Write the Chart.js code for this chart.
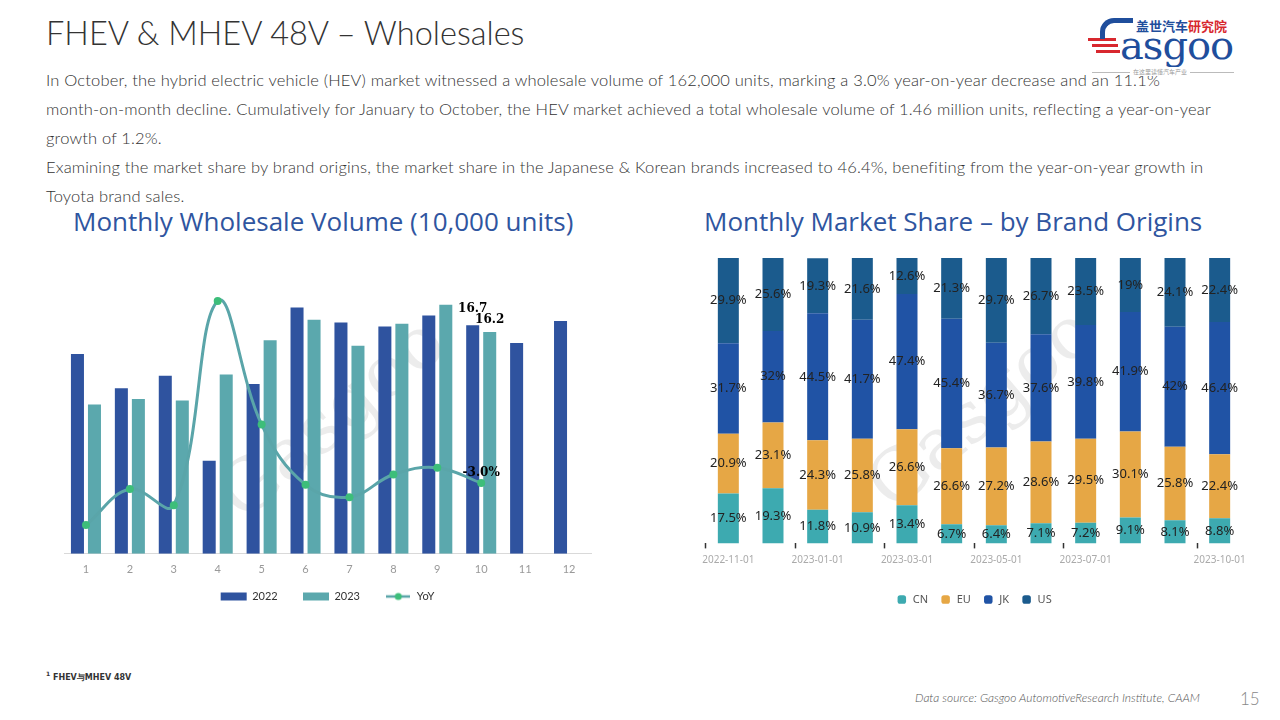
<!DOCTYPE html>
<html>
<head>
<meta charset="utf-8">
<script src="https://cdn.jsdelivr.net/npm/chart.js@4.4.0/dist/chart.umd.min.js"></script>
<style>
  body { margin: 0; width: 1280px; height: 720px; background: #fff; position: relative; overflow: hidden; font-family: 'Lato', sans-serif; color: #333; }
  .abs { position: absolute; }
  #title { left: 46px; top: 13px; font-size: 32.5px; font-weight: 300; color: #333; }
  #para { left: 46px; top: 66px; font-size: 16.5px; letter-spacing: 0.17px; font-weight: 300; line-height: 29px; color: #333; white-space: nowrap; }
  .sub { top: 203px; font-size: 26px; color: #2F55A0; font-family: 'Open Sans', sans-serif; }
  #note { left: 46px; top: 670px; font-size: 8px; font-weight: bold; font-family: 'DejaVu Sans', sans-serif; }
  #src { left: 915px; top: 690px; font-size: 12px; font-style: italic; color: #555; font-weight: 300; }
  #page { left: 1240px; top: 688px; font-size: 17px; color: #888; font-weight: 300; }
  .wm { font-size: 72px; color: rgba(170,170,170,0.22); transform: rotate(-40deg); font-family: 'DejaVu Serif', serif; pointer-events: none; }
</style>
</head>
<body>
<div id="title" class="abs">FHEV &amp; MHEV 48V – Wholesales</div>
<div id="para" class="abs">In October, the hybrid electric vehicle (HEV) market witnessed a wholesale volume of 162,000 units, marking a 3.0% year-on-year decrease and an 11.1%<br>month-on-month decline. Cumulatively for January to October, the HEV market achieved a total wholesale volume of 1.46 million units, reflecting a year-on-year<br>growth of 1.2%.<br>Examining the market share by brand origins, the market share in the Japanese &amp; Korean brands increased to 46.4%, benefiting from the year-on-year growth in<br>Toyota brand sales.</div>
<div class="abs sub" style="left:73px">Monthly Wholesale Volume (10,000 units)</div>
<div class="abs sub" style="left:704px">Monthly Market Share – by Brand Origins</div>

<!-- logo -->
<div class="abs" style="left:1088px; top:16px; width:150px; height:62px;">
  <div class="abs" style="left:48px; top:0; font-size:13px; font-weight:bold; font-family:'Noto Sans CJK SC'; color:#1F4E9C;">盖世汽车<span style="color:#D8282E">研究院</span></div>
  <div class="abs" style="left:0; top:22px; width:28px; height:3px; background:#D8282E;"></div>
  <div class="abs" style="left:4px; top:28px; width:26px; height:3px; background:#D8282E;"></div>
  <div class="abs" style="left:8px; top:34px; width:24px; height:3px; background:#D8282E;"></div>
  <div class="abs" style="left:12px; top:2px; width:28px; height:16px; border-top:5px solid #1F4E9C; border-left:5px solid #1F4E9C; border-radius:14px 0 0 0;"></div>
  <div class="abs" style="left:32px; top:6px; font-size:40px; font-family:'DejaVu Serif', serif; color:#1F4E9C; letter-spacing:-1px;">asgoo</div>
  <div class="abs" style="left:4px; top:56px; width:142px; border-top:1px solid #bbb;"></div>
  <div class="abs" style="left:42px; top:51px; font-size:6px; color:#999; background:#fff; padding:0 3px; font-family:'Noto Sans CJK SC';">在这里读懂汽车产业</div>
</div>

<div class="abs wm" style="left:195px; top:375px;">Gasgoo</div>
<div class="abs wm" style="left:845px; top:365px;">Gasgoo</div>

<div class="abs" style="left:50px; top:250px; width:560px; height:362px;"><canvas id="c1"></canvas></div>
<div class="abs" style="left:690px; top:254px; width:570px; height:361px;"><canvas id="c2"></canvas></div>

<div id="note" class="abs"><sup style="font-size:6px">1</sup> FHEV与MHEV 48V</div>
<div id="src" class="abs">Data source: Gasgoo AutomotiveResearch Institute, CAAM</div>
<div id="page" class="abs">15</div>

<script>
// left chart data
const months = ['1', '2', '3', '4', '5', '6', '7', '8', '9', '10', '11', '12'];
const vol2022 = [14.6, 12.1, 13.0, 6.8, 12.4, 18.0, 16.9, 16.6, 17.4, 16.7, 15.4, 17.0];
const vol2023 = [10.9, 11.3, 11.2, 13.1, 15.6, 17.1, 15.2, 16.8, 18.2, 16.2, null, null];
const yoy = [-25, -6.2, -14.6, 92, 27.5, -4, -10.4, 1.4, 5, -3.0, null, null];

// right chart data
const shareMonths = ['2022-11-01', '2022-12-01', '2023-01-01', '2023-02-01', '2023-03-01', '2023-04-01',
  '2023-05-01', '2023-06-01', '2023-07-01', '2023-08-01', '2023-09-01', '2023-10-01'];
const shownTicks = ['2022-11-01', '2023-01-01', '2023-03-01', '2023-05-01', '2023-07-01', '2023-10-01'];
const shareCN = [17.5, 19.3, 11.8, 10.9, 13.4, 6.7, 6.4, 7.1, 7.2, 9.1, 8.1, 8.8];
const shareEU = [20.9, 23.1, 24.3, 25.8, 26.6, 26.6, 27.2, 28.6, 29.5, 30.1, 25.8, 22.4];
const shareJK = [31.7, 32, 44.5, 41.7, 47.4, 45.4, 36.7, 37.6, 39.8, 41.9, 42, 46.4];
const shareUS = [29.9, 25.6, 19.3, 21.6, 12.6, 21.3, 29.7, 26.7, 23.5, 19, 24.1, 22.4];

// icon for the YoY legend entry: line with a dot
const lineIcon = document.createElement('canvas');
lineIcon.width = 24; lineIcon.height = 10;
(function () {
  const g = lineIcon.getContext('2d');
  g.strokeStyle = '#5AA5A9'; g.lineWidth = 2.5;
  g.beginPath(); g.moveTo(0, 5); g.lineTo(24, 5); g.stroke();
  g.fillStyle = '#3DBE7A';
  g.beginPath(); g.arc(12, 5, 3.5, 0, Math.PI * 2); g.fill();
})();

// value labels on the last month of the left chart
const lastLabels = {
  id: 'lastLabels',
  afterDatasetsDraw(chart) {
    const { ctx } = chart;
    ctx.save();
    ctx.fillStyle = '#000';
    ctx.font = 'bold 12px "DejaVu Serif", serif';
    ctx.textAlign = 'center';
    ctx.textBaseline = 'bottom';
    const i = 9;
    const b0 = chart.getDatasetMeta(0).data[i];
    const b1 = chart.getDatasetMeta(1).data[i];
    const p = chart.getDatasetMeta(2).data[i];
    ctx.fillText(vol2022[i].toFixed(1), b0.x, b0.y - 10);
    ctx.fillText(vol2023[i].toFixed(1), b1.x, b1.y - 6);
    ctx.fillText(yoy[i].toFixed(1) + '%', p.x, p.y - 4);
    ctx.restore();
  }
};

new Chart(document.getElementById('c1'), {
  data: {
    labels: months,
    datasets: [
      { type: 'bar', label: '2022', data: vol2022, backgroundColor: '#2F539F', order: 2,
        categoryPercentage: 0.775, barPercentage: 0.765, yAxisID: 'y' },
      { type: 'bar', label: '2023', data: vol2023, backgroundColor: '#5BA8AD', order: 2,
        categoryPercentage: 0.775, barPercentage: 0.765, yAxisID: 'y' },
      { type: 'line', label: 'YoY', data: yoy, borderColor: '#5AA5A9', borderWidth: 3,
        backgroundColor: '#3DBE7A', pointBackgroundColor: '#3DBE7A', pointBorderWidth: 0,
        pointRadius: 4, tension: 0.4, order: 0, yAxisID: 'y1' }
    ]
  },
  options: {
    responsive: true,
    maintainAspectRatio: false,
    animation: false,
    layout: { padding: { left: 14, right: 19, top: 30, bottom: 0 } },
    scales: {
      x: {
        grid: { display: false },
        border: { color: '#d9d9d9' },
        ticks: { color: '#999', font: { size: 11, family: 'Lato' }, padding: 1 }
      },
      y: { display: false, min: 0, max: 20 },
      y1: { display: false, min: -40, max: 103 }
    },
    plugins: {
      legend: {
        position: 'bottom',
        labels: {
          usePointStyle: true,
          pointStyleWidth: 26,
          boxHeight: 8,
          padding: 14,
          color: '#333',
          font: { size: 11, family: 'Lato' },
          sort: (a, b) => a.datasetIndex - b.datasetIndex,
          generateLabels: (chart) => Chart.defaults.plugins.legend.labels.generateLabels(chart).map(l => {
            l.pointStyle = l.datasetIndex === 2 ? lineIcon : 'rect';
            l.lineWidth = 0;
            if (l.datasetIndex < 2) l.text += '\u00a0\u00a0\u00a0\u00a0';
            return l;
          })
        }
      },
      tooltip: { enabled: false }
    }
  },
  plugins: [lastLabels]
});

// percentage labels in every segment of the right chart
const segLabels = {
  id: 'segLabels',
  afterDatasetsDraw(chart) {
    const { ctx } = chart;
    ctx.save();
    ctx.fillStyle = '#222';
    ctx.font = '13px "Noto Sans", sans-serif';
    ctx.textAlign = 'center';
    ctx.textBaseline = 'middle';
    chart.data.datasets.forEach((ds, di) => {
      chart.getDatasetMeta(di).data.forEach((bar, i) => {
        ctx.fillText(ds.data[i] + '%', bar.x, (bar.y + bar.base) / 2);
      });
    });
    ctx.restore();
  }
};

const segBar = { categoryPercentage: 1, barPercentage: 0.47, borderWidth: 0 };

new Chart(document.getElementById('c2'), {
  type: 'bar',
  data: {
    labels: shareMonths,
    datasets: [
      { label: 'CN', data: shareCN, backgroundColor: '#3DAAB0', ...segBar },
      { label: 'EU', data: shareEU, backgroundColor: '#E6A745', ...segBar },
      { label: 'JK', data: shareJK, backgroundColor: '#2053A5', ...segBar },
      { label: 'US', data: shareUS, backgroundColor: '#1B5B8D', ...segBar }
    ]
  },
  options: {
    responsive: true,
    maintainAspectRatio: false,
    animation: false,
    layout: { padding: { left: 16, right: 18, top: 4, bottom: 0 } },
    scales: {
      x: {
        stacked: true,
        border: { display: false },
        grid: {
          drawOnChartArea: false,
          tickLength: 5,
          tickWidth: 1.5,
          color: (c) => shownTicks.includes(shareMonths[c.index]) ? '#333' : 'rgba(0,0,0,0)'
        },
        ticks: {
          autoSkip: false,
          maxRotation: 0,
          padding: 6,
          color: '#aaa',
          font: { size: 10, family: 'Noto Sans' },
          callback: (v, i) => shownTicks.includes(shareMonths[i]) ? shareMonths[i] : ''
        }
      },
      y: { display: false, stacked: true, min: 0, max: 100 }
    },
    plugins: {
      legend: {
        position: 'bottom',
        title: { display: true, text: '', font: { size: 8 }, padding: 0 },
        labels: {
          usePointStyle: true,
          pointStyle: 'rectRounded',
          boxHeight: 7,
          padding: 12,
          color: '#555',
          font: { size: 11, family: 'Noto Sans' }
        }
      },
      tooltip: { enabled: false }
    }
  },
  plugins: [segLabels]
});
</script>
</body>
</html>
